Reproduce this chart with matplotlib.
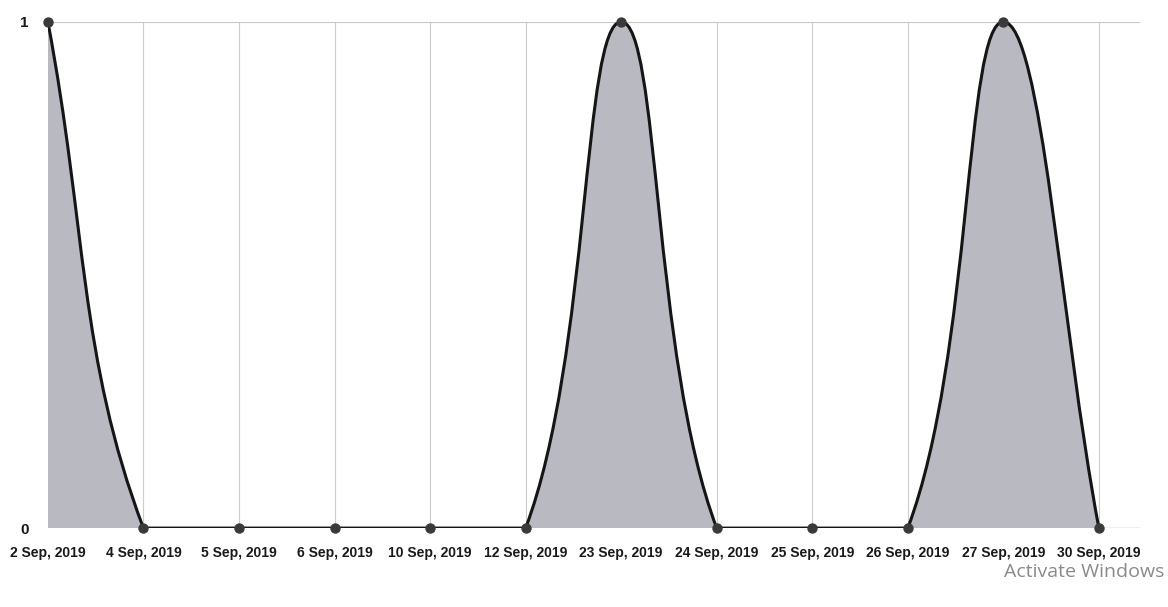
import numpy as np
import matplotlib.pyplot as plt
from matplotlib.path import Path
from matplotlib.patches import PathPatch

dates = ["2 Sep, 2019", "4 Sep, 2019", "5 Sep, 2019", "6 Sep, 2019",
         "10 Sep, 2019", "12 Sep, 2019", "23 Sep, 2019", "24 Sep, 2019",
         "25 Sep, 2019", "26 Sep, 2019", "27 Sep, 2019", "30 Sep, 2019"]
values = [1, 0, 0, 0, 0, 0, 1, 0, 0, 0, 1, 0]
y_ticks = [0, 1]

# pixel size of one unit on each axis, used for the spline tension weights
PX_X, PX_Y = 95.5, 506.0
TENSION = 0.4


def spline_controls(xs, ys):
    """control points like a tension 0.4 canvas spline, capped to [0, 1]"""
    n = len(xs)
    ctrl = []
    for i in range(n):
        px, py = (xs[i - 1], ys[i - 1]) if i > 0 else (xs[i], ys[i])
        nx, ny = (xs[i + 1], ys[i + 1]) if i < n - 1 else (xs[i], ys[i])
        cx, cy = xs[i], ys[i]
        d01 = np.hypot((cx - px) * PX_X, (cy - py) * PX_Y)
        d12 = np.hypot((nx - cx) * PX_X, (ny - cy) * PX_Y)
        tot = d01 + d12
        s01 = d01 / tot if tot else 0
        s12 = d12 / tot if tot else 0
        fa, fb = TENSION * s01, TENSION * s12
        prev_c = [cx - fa * (nx - px), cy - fa * (ny - py)]
        next_c = [cx + fb * (nx - px), cy + fb * (ny - py)]
        for c in (prev_c, next_c):
            c[1] = min(max(c[1], 0), 1)
        ctrl.append((prev_c, next_c))
    return ctrl


xs = np.arange(len(dates))
ys = np.array(values, dtype=float)
ctrl = spline_controls(xs, ys)

verts = [(xs[0], ys[0])]
codes = [Path.MOVETO]
for i in range(1, len(xs)):
    verts += [tuple(ctrl[i - 1][1]), tuple(ctrl[i][0]), (xs[i], ys[i])]
    codes += [Path.CURVE4] * 3
line_path = Path(verts, codes)

fill_verts = verts + [(xs[-1], 0), (xs[0], 0), (xs[0], ys[0])]
fill_codes = codes + [Path.LINETO, Path.LINETO, Path.CLOSEPOLY]
fill_path = Path(fill_verts, fill_codes)

fig = plt.figure(figsize=(11.68, 6.07), dpi=100)
ax = fig.add_axes([0.041, 0.13, 0.935, 0.834])

ax.set_xlim(0, 11.43)
ax.set_ylim(0, 1)

for x in xs[1:]:
    ax.axvline(x, color="#cdcdcd", lw=0.8, zorder=0)
ax.axhline(1, color="#c8c8c8", lw=0.8, zorder=0)
ax.axhline(0, color="#b0b0b0", lw=1.0, zorder=0)

ax.add_patch(PathPatch(fill_path, facecolor="#b9b9c2", edgecolor="none", zorder=1))
ax.add_patch(PathPatch(line_path, facecolor="none", edgecolor="#151515", lw=2.2,
                       zorder=2, capstyle="round", joinstyle="round"))
ax.scatter(xs, ys, s=42, color="#3a3a3a", zorder=3, clip_on=False)

for s in ax.spines.values():
    s.set_visible(False)

ax.set_xticks(xs)
ax.set_xticklabels(dates, fontsize=10, fontweight="bold", family="Liberation Sans",
                   color="#1a1a1a")
ax.set_yticks(y_ticks)
ax.set_yticklabels([str(v) for v in y_ticks], fontsize=11, fontweight="bold",
                   family="Liberation Sans", color="#1a1a1a")
ax.tick_params(axis="x", length=0, pad=13)
ax.tick_params(axis="y", length=0, pad=14)

fig.text(0.997, 0.058, "Activate Windows", fontsize=14, color="#8a8a8a",
         family="Open Sans", ha="right", va="center")

fig.savefig("out.png", dpi=100)
